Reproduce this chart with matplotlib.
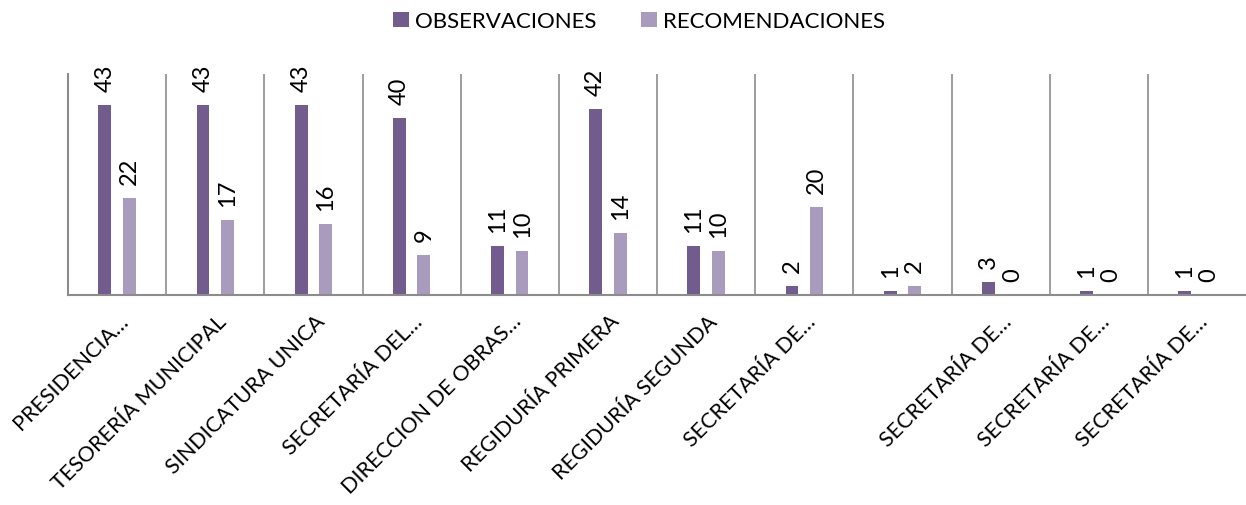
"""Observaciones y recomendaciones por área."""
import matplotlib
matplotlib.use("Agg")
import matplotlib.pyplot as plt
import matplotlib.transforms as mtransforms
import numpy as np

plt.rcParams["font.family"] = ["Lato", "DejaVu Sans"]

areas = [
    "PRESIDENCIA…",
    "TESORERÍA MUNICIPAL",
    "SINDICATURA UNICA",
    "SECRETARÍA DEL…",
    "DIRECCION DE OBRAS…",
    "REGIDURÍA PRIMERA",
    "REGIDURÍA SEGUNDA",
    "SECRETARÍA DE…",
    "",
    "SECRETARÍA DE…",
    "SECRETARÍA DE…",
    "SECRETARÍA DE…",
]
observaciones = [43, 43, 43, 40, 11, 42, 11, 2, 1, 3, 1, 1]
recomendaciones = [22, 17, 16, 9, 10, 14, 10, 20, 2, 0, 0, 0]

dark = "#725C8E"
light = "#A99BBD"
grid = "#8C8C8C"

fig = plt.figure(figsize=(12.46, 5.06), dpi=100)
ax = fig.add_axes([0.0546, 0.415, 0.9454, 0.437])

x = np.arange(len(areas))
w = 0.13
b1 = ax.bar(x - 0.125, observaciones, w, color=dark, label="OBSERVACIONES")
b2 = ax.bar(x + 0.125, recomendaciones, w, color=light, label="RECOMENDACIONES")

for bars in (b1, b2):
    ax.bar_label(bars, padding=10, rotation=90, fontsize=17)

ax.set_xlim(-0.5, len(areas) - 0.5)
ax.set_ylim(0, 50)
ax.set_yticks([])
for b in np.arange(0.5, len(areas) - 0.5, 1):
    ax.axvline(b, color=grid, lw=1.2, zorder=0)

for side in ("top", "right"):
    ax.spines[side].set_visible(False)
for side in ("left", "bottom"):
    ax.spines[side].set_color(grid)
    ax.spines[side].set_linewidth(1.5)

ax.set_xticks(x)
ax.set_xticklabels(areas, rotation=45, ha="right", va="center",
                   rotation_mode="anchor", fontsize=15.5)
ax.tick_params(axis="x", length=0, pad=10)
offset = mtransforms.ScaledTranslation(0.08, -0.09, fig.dpi_scale_trans)
for lab in ax.get_xticklabels():
    lab.set_transform(lab.get_transform() + offset)

fig.legend(handles=[b1, b2], loc="upper center", ncol=2, frameon=False,
           fontsize=16, bbox_to_anchor=(0.513, 1.015), handlelength=0.7,
           handleheight=0.7, columnspacing=2.0, handletextpad=0.3)

fig.savefig("out.png", dpi=100)
